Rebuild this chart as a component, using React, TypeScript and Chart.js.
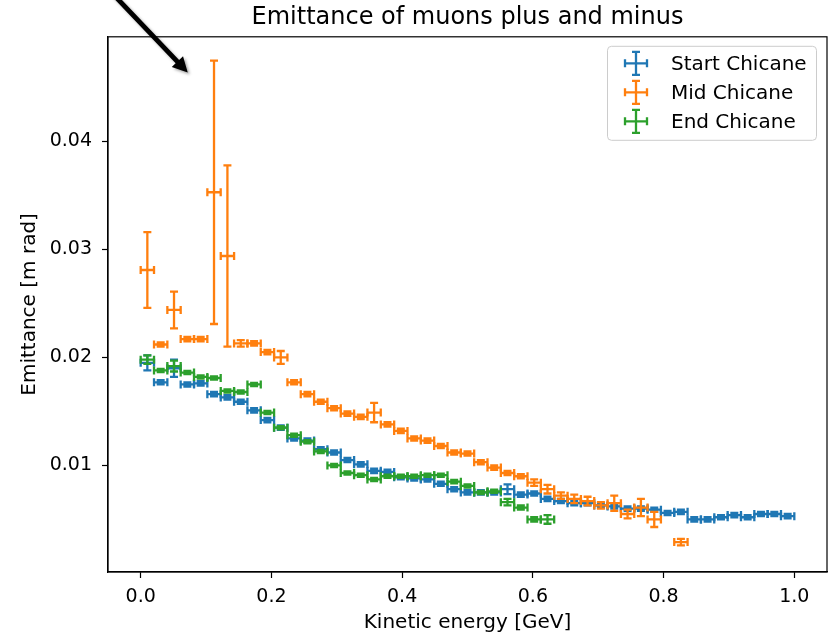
import React, { useEffect, useRef } from "react";
import { Chart, registerables } from "chart.js";

Chart.register(...registerables);

const FONT = "'DejaVu Sans', sans-serif";

// Bin centres (GeV) of the kinetic-energy histogram
const binCenters = [
  0.0102, 0.0306, 0.051, 0.0714, 0.0918, 0.1122, 0.1327, 0.1531, 0.1735, 0.1939,
  0.2143, 0.2347, 0.2551, 0.2755, 0.2959, 0.3163, 0.3367, 0.3571, 0.3776, 0.398,
  0.4184, 0.4388, 0.4592, 0.4796, 0.5, 0.5204, 0.5408, 0.5612, 0.5816, 0.602,
  0.6224, 0.6429, 0.6633, 0.6837, 0.7041, 0.7245, 0.7449, 0.7653, 0.7857, 0.8061,
  0.8265, 0.8469, 0.8673, 0.8878, 0.9082, 0.9286, 0.949, 0.9694, 0.9898,
];
const binHalfWidth = 0.0102;

// Start Chicane
const startY = [
  0.0195, 0.0177, 0.019, 0.0175, 0.0176, 0.0166, 0.0163, 0.0159, 0.0151, 0.0142,
  0.0135, 0.0125, 0.0123, 0.0115, 0.0112, 0.0105, 0.0101, 0.0095, 0.0094, 0.0089,
  0.0088, 0.0087, 0.0083, 0.0078, 0.0075, 0.0075, 0.0075, 0.0078, 0.0073, 0.0074,
  0.0069, 0.0067, 0.0065, 0.0065, 0.0063, 0.0062, 0.006, 0.006, 0.0059, 0.0056,
  0.0057, 0.005, 0.005, 0.0052, 0.0054, 0.0052, 0.0055, 0.0055, 0.0053,
];
const startErr = [
  0.0007, 0.0002, 0.0008, 0.0002, 0.0002, 0.0002, 0.0002, 0.0002, 0.0002, 0.0002,
  0.0002, 0.0002, 0.0002, 0.0002, 0.0002, 0.0002, 0.0002, 0.0002, 0.0002, 0.0002,
  0.0002, 0.0002, 0.0002, 0.0002, 0.0002, 0.0002, 0.0002, 0.00045, 0.0002, 0.0002,
  0.0002, 0.0002, 0.0002, 0.0002, 0.0002, 0.0002, 0.0002, 0.0002, 0.0002, 0.0002,
  0.0002, 0.0002, 0.0002, 0.0002, 0.0002, 0.0002, 0.0002, 0.0002, 0.0002,
];

// Mid Chicane (no entry in bin 39)
const midY = [
  0.0281, 0.0212, 0.0244, 0.0217, 0.0217, 0.0353, 0.0294, 0.0213, 0.0213, 0.0205,
  0.02, 0.0177, 0.0166, 0.0159, 0.0153, 0.0148, 0.0145, 0.0149, 0.0138, 0.0132,
  0.0125, 0.0123, 0.0118, 0.0112, 0.0111, 0.0103, 0.0098, 0.0093, 0.009, 0.0084,
  0.0078, 0.0072, 0.0069, 0.0067, 0.0063, 0.0065, 0.0055, 0.0061, 0.005, null,
  0.0029,
];
const midErr = [
  0.0035, 0.0002, 0.0017, 0.0002, 0.0002, 0.0122, 0.0084, 0.0003, 0.0002, 0.0002,
  0.0006, 0.0002, 0.0002, 0.0002, 0.0002, 0.0002, 0.0002, 0.0009, 0.0002, 0.0002,
  0.0002, 0.0002, 0.0002, 0.0002, 0.0002, 0.0002, 0.0002, 0.0002, 0.0002, 0.0003,
  0.0004, 0.0003, 0.0004, 0.0004, 0.0003, 0.0007, 0.0004, 0.0008, 0.0007, null,
  0.0003,
];

// End Chicane
const endY = [
  0.0198, 0.0188, 0.0192, 0.0186, 0.0182, 0.0181, 0.0169, 0.0168, 0.0175, 0.0149,
  0.0135, 0.0128, 0.0122, 0.0113, 0.01, 0.0093, 0.0091, 0.0087, 0.009, 0.009,
  0.009, 0.0091, 0.0091, 0.0085, 0.0081, 0.0075, 0.0076, 0.0066, 0.0061, 0.005,
  0.005,
];
const endErr = [
  0.0004, 0.00015, 0.0005, 0.00015, 0.00015, 0.00015, 0.00015, 0.00015, 0.00015, 0.00015,
  0.00015, 0.00015, 0.00015, 0.00015, 0.00015, 0.00015, 0.00015, 0.00015, 0.00015, 0.00015,
  0.00015, 0.00015, 0.00015, 0.00015, 0.00015, 0.00015, 0.00015, 0.0003, 0.0002, 0.0002,
  0.0004,
];

const seriesLabels = ["Start Chicane", "Mid Chicane", "End Chicane"];
const seriesColors = ["#1f77b4", "#ff7f0e", "#2ca02c"];

const xTicks = [0, 0.2, 0.4, 0.6, 0.8, 1.0];
const yTicks = [0.01, 0.02, 0.03, 0.04];

// annotation arrow (data coordinates)
const arrowTail = { x: -0.043, y: 0.0537 };
const arrowTip = { x: 0.072, y: 0.0464 };

function buildPoints(ys: (number | null)[], errs: (number | null)[]) {
  const pts: any[] = [];
  ys.forEach((y, i) => {
    if (y === null || y === undefined) return;
    pts.push({ x: binCenters[i], y, xErr: binHalfWidth, yErr: errs[i] ?? 0 });
  });
  return pts;
}

const CAP = 4;
const LW = 2.3;

function drawErrGlyph(ctx: CanvasRenderingContext2D, cx: number, cy: number, hx: number, hy: number) {
  ctx.beginPath();
  ctx.moveTo(cx - hx, cy);
  ctx.lineTo(cx + hx, cy);
  ctx.moveTo(cx - hx, cy - CAP);
  ctx.lineTo(cx - hx, cy + CAP);
  ctx.moveTo(cx + hx, cy - CAP);
  ctx.lineTo(cx + hx, cy + CAP);
  ctx.moveTo(cx, cy - hy);
  ctx.lineTo(cx, cy + hy);
  ctx.moveTo(cx - CAP, cy - hy);
  ctx.lineTo(cx + CAP, cy - hy);
  ctx.moveTo(cx - CAP, cy + hy);
  ctx.lineTo(cx + CAP, cy + hy);
  ctx.stroke();
}

const errorBarPlugin = {
  id: "errorBars",
  afterDatasetsDraw(chart: any) {
    const { ctx, chartArea } = chart;
    const xs = chart.scales.x;
    const ys = chart.scales.y;
    chart.data.datasets.forEach((ds: any) => {
      ctx.save();
      ctx.strokeStyle = ds.borderColor;
      ctx.lineWidth = LW;
      ds.data.forEach((p: any) => {
        const x1 = xs.getPixelForValue(p.x - p.xErr);
        const x2 = xs.getPixelForValue(p.x + p.xErr);
        const px = xs.getPixelForValue(p.x);
        const py = ys.getPixelForValue(p.y);
        const y1 = ys.getPixelForValue(p.y - p.yErr);
        const y2 = ys.getPixelForValue(p.y + p.yErr);
        ctx.beginPath();
        ctx.moveTo(x1, py);
        ctx.lineTo(x2, py);
        ctx.moveTo(x1, py - CAP);
        ctx.lineTo(x1, py + CAP);
        ctx.moveTo(x2, py - CAP);
        ctx.lineTo(x2, py + CAP);
        ctx.moveTo(px, y1);
        ctx.lineTo(px, y2);
        ctx.moveTo(px - CAP, y1);
        ctx.lineTo(px + CAP, y1);
        ctx.moveTo(px - CAP, y2);
        ctx.lineTo(px + CAP, y2);
        ctx.stroke();
      });
      ctx.restore();
    });
    // frame (all four spines)
    ctx.save();
    ctx.strokeStyle = "#000";
    ctx.lineWidth = 1.2;
    ctx.strokeRect(chartArea.left, chartArea.top, chartArea.right - chartArea.left, chartArea.bottom - chartArea.top);
    ctx.restore();
  },
  afterDraw(chart: any) {
    const { ctx, chartArea } = chart;
    const xs = chart.scales.x;
    const ys = chart.scales.y;

    // legend
    const boxW = 209;
    const boxH = 94;
    const boxLeft = chartArea.right - 11 - boxW;
    const boxTop = chartArea.top + 9;
    ctx.save();
    ctx.beginPath();
    (ctx as any).roundRect(boxLeft + 0.5, boxTop + 0.5, boxW, boxH, 4);
    ctx.fillStyle = "rgba(255,255,255,0.8)";
    ctx.fill();
    ctx.strokeStyle = "#cccccc";
    ctx.lineWidth = 1;
    ctx.stroke();
    chart.data.datasets.forEach((ds: any, i: number) => {
      const cy = boxTop + 17.5 + i * 29;
      ctx.strokeStyle = ds.borderColor;
      ctx.lineWidth = LW;
      drawErrGlyph(ctx, boxLeft + 29, cy, 11, 11.5);
      ctx.fillStyle = "#000";
      ctx.font = `20px ${FONT}`;
      ctx.textBaseline = "middle";
      ctx.textAlign = "left";
      ctx.fillText(ds.label, boxLeft + 64, cy + 1);
    });
    ctx.restore();

    // arrow annotation
    const tx = xs.getPixelForValue(arrowTail.x);
    const ty = ys.getPixelForValue(arrowTail.y);
    const hx = xs.getPixelForValue(arrowTip.x);
    const hy = ys.getPixelForValue(arrowTip.y);
    const len = Math.hypot(hx - tx, hy - ty);
    const dx = (hx - tx) / len;
    const dy = (hy - ty) / len;
    const nx = -dy;
    const ny = dx;
    const w = 2.4;
    const hl = 15;
    const hw = 7.8;
    const bx = hx - dx * hl;
    const by = hy - dy * hl;
    ctx.save();
    ctx.shadowColor = "rgba(0,0,0,0.35)";
    ctx.shadowBlur = 3;
    ctx.shadowOffsetX = 2;
    ctx.shadowOffsetY = 2;
    ctx.fillStyle = "#000";
    ctx.beginPath();
    ctx.moveTo(tx + nx * w, ty + ny * w);
    ctx.lineTo(bx + nx * w, by + ny * w);
    ctx.lineTo(bx + nx * hw, by + ny * hw);
    ctx.lineTo(hx, hy);
    ctx.lineTo(bx - nx * hw, by - ny * hw);
    ctx.lineTo(bx - nx * w, by - ny * w);
    ctx.lineTo(tx - nx * w, ty - ny * w);
    ctx.closePath();
    ctx.fill();
    ctx.restore();
  },
};

export default function App() {
  const canvasRef = useRef<HTMLCanvasElement | null>(null);

  useEffect(() => {
    if (!canvasRef.current) return;
    Chart.defaults.font.family = FONT;
    Chart.defaults.color = "#000";
    const datasets = [
      { label: seriesLabels[0], data: buildPoints(startY, startErr) },
      { label: seriesLabels[1], data: buildPoints(midY, midErr) },
      { label: seriesLabels[2], data: buildPoints(endY, endErr) },
    ].map((d, i) => ({
      ...d,
      borderColor: seriesColors[i],
      backgroundColor: seriesColors[i],
      pointRadius: 0,
      pointHoverRadius: 0,
      showLine: false,
    }));

    const chart = new Chart(canvasRef.current, {
      type: "scatter",
      data: { datasets },
      plugins: [errorBarPlugin],
      options: {
        animation: false,
        responsive: false,
        devicePixelRatio: 1,
        events: [],
        layout: { padding: { left: 0, right: 2, top: 0, bottom: 0 } },
        plugins: {
          legend: { display: false },
          tooltip: { enabled: false },
          title: {
            display: true,
            text: "Emittance of muons plus and minus",
            fullSize: false,
            color: "#000",
            font: { family: FONT, size: 24, weight: "normal" },
            padding: { top: 3, bottom: 5 },
          },
        },
        scales: {
          x: {
            type: "linear",
            min: -0.05,
            max: 1.05,
            afterBuildTicks: (s: any) => {
              s.ticks = xTicks.map((v) => ({ value: v }));
            },
            afterFit: (s: any) => {
              s.height = 63;
            },
            grid: { drawOnChartArea: false, drawTicks: true, tickLength: 6, tickWidth: 1.2, tickColor: "#000" },
            border: { display: true, color: "#000", width: 1.2 },
            ticks: {
              color: "#000",
              font: { family: FONT, size: 19 },
              padding: 8,
              maxRotation: 0,
              autoSkip: false,
              callback: (v: any) => Number(v).toFixed(1),
            },
            title: {
              display: true,
              text: "Kinetic energy [GeV]",
              color: "#000",
              font: { family: FONT, size: 20 },
              padding: { top: 0, bottom: 0 },
            },
          },
          y: {
            type: "linear",
            min: 0.00013,
            max: 0.0497,
            afterBuildTicks: (s: any) => {
              s.ticks = yTicks.map((v) => ({ value: v }));
            },
            afterFit: (s: any) => {
              s.width = 108;
            },
            grid: { drawOnChartArea: false, drawTicks: true, tickLength: 6, tickWidth: 1.2, tickColor: "#000" },
            border: { display: true, color: "#000", width: 1.2 },
            ticks: {
              color: "#000",
              font: { family: FONT, size: 19 },
              padding: 10,
              autoSkip: false,
              callback: (v: any) => Number(v).toFixed(2),
            },
            title: {
              display: true,
              text: "Emittance [m rad]",
              color: "#000",
              font: { family: FONT, size: 20 },
              padding: { top: 18, bottom: 0 },
            },
          },
        },
      } as any,
    });
    return () => chart.destroy();
  }, []);

  return (
    <div style={{ position: "absolute", left: 0, top: 0, width: 829, height: 635, background: "#fff" }}>
      <canvas ref={canvasRef} width={829} height={635} />
    </div>
  );
}
